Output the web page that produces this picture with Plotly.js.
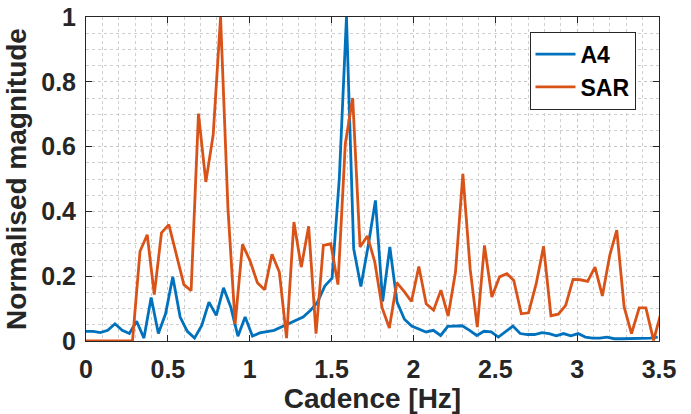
<!DOCTYPE html>
<html>
<head>
<meta charset="utf-8">
<script src="https://cdn.plot.ly/plotly-3.0.1.min.js"></script>
<style>html,body{margin:0;padding:0;background:#fff;}#chart{width:691px;height:414px;}</style>
</head>
<body>
<div id="chart"></div>
<script>
// A4 series (frequency in Hz, normalised magnitude)
const a4Freq = [0.000,0.044,0.088,0.133,0.177,0.221,0.265,0.309,0.354,0.398,0.442,0.486,0.530,0.575,0.619,0.663,0.707,0.751,0.796,0.840,0.884,0.928,0.972,1.017,1.061,1.105,1.149,1.193,1.238,1.282,1.326,1.370,1.414,1.459,1.503,1.547,1.591,1.635,1.679,1.724,1.768,1.812,1.856,1.900,1.945,1.989,2.033,2.077,2.122,2.166,2.210,2.254,2.298,2.343,2.387,2.431,2.475,2.519,2.564,2.608,2.652,2.696,2.740,2.785,2.829,2.873,2.917,2.961,3.006,3.050,3.094,3.138,3.182,3.227,3.271,3.315,3.359,3.403,3.447,3.492];
const a4Mag = [0.030,0.030,0.026,0.033,0.053,0.033,0.023,0.061,0.009,0.134,0.023,0.084,0.198,0.074,0.030,0.009,0.048,0.120,0.079,0.164,0.105,0.015,0.074,0.015,0.025,0.028,0.033,0.043,0.053,0.064,0.074,0.094,0.120,0.170,0.194,0.500,1.000,0.285,0.168,0.295,0.434,0.122,0.290,0.120,0.067,0.046,0.038,0.028,0.033,0.017,0.045,0.046,0.047,0.033,0.017,0.030,0.028,0.012,0.030,0.046,0.023,0.020,0.020,0.026,0.023,0.016,0.023,0.016,0.023,0.012,0.009,0.009,0.012,0.007,0.007,0.007,0.007,0.007,0.009,0.012];

// SAR series
const sarFreq = [0.000,0.017,0.061,0.106,0.150,0.195,0.240,0.284,0.330,0.374,0.417,0.461,0.506,0.553,0.598,0.642,0.687,0.732,0.777,0.822,0.867,0.911,0.956,1.001,1.047,1.091,1.136,1.181,1.225,1.270,1.315,1.360,1.405,1.450,1.495,1.539,1.584,1.629,1.674,1.719,1.764,1.809,1.853,1.898,1.943,1.988,2.033,2.078,2.123,2.168,2.212,2.257,2.302,2.347,2.390,2.434,2.479,2.526,2.571,2.613,2.659,2.703,2.750,2.795,2.840,2.885,2.930,2.975,3.020,3.064,3.109,3.154,3.199,3.242,3.287,3.332,3.379,3.420,3.467,3.511];
const sarMag = [0,0,0,0,0,0,0,0,0.277,0.328,0.143,0.334,0.359,0.262,0.174,0.155,0.702,0.491,0.637,1.000,0.410,0.053,0.298,0.249,0.180,0.158,0.268,0.213,0.009,0.367,0.228,0.354,0.023,0.295,0.300,0.174,0.609,0.750,0.290,0.324,0.244,0.102,0.040,0.180,0.153,0.122,0.230,0.115,0.095,0.157,0.077,0.213,0.516,0.220,0.043,0.295,0.136,0.198,0.208,0.187,0.084,0.087,0.177,0.292,0.078,0.083,0.110,0.190,0.189,0.184,0.228,0.139,0.264,0.342,0.105,0.023,0.102,0.102,0.002,0.085];

const seriesNames = ["A4", "SAR"];
const xTickVals = [0, 0.5, 1, 1.5, 2, 2.5, 3, 3.5];
const xTickText = ["0", "0.5", "1", "1.5", "2", "2.5", "3", "3.5"];
const yTickVals = [0, 0.2, 0.4, 0.6, 0.8, 1];
const yTickText = ["0", "0.2", "0.4", "0.6", "0.8", "1"];
const xLabel = "Cadence [Hz]";
const yLabel = "Normalised magnitude";

const FONT = "Liberation Sans, Arial, Helvetica, sans-serif";
const AX = "#262626";

const traces = [
  {x: a4Freq, y: a4Mag, name: seriesNames[0], type: "scatter", mode: "lines",
   line: {color: "#0072BD", width: 2.8}},
  {x: sarFreq, y: sarMag, name: seriesNames[1], type: "scatter", mode: "lines",
   line: {color: "#D95319", width: 2.8}}
];

const axisCommon = {
  showline: true, linecolor: AX, linewidth: 1, mirror: "ticks",
  ticks: "inside", ticklen: 6, tickwidth: 1, tickcolor: AX,
  showgrid: true, gridcolor: "#c4c4c4", griddash: "dot", gridwidth: 1,
  zeroline: false,
  tickfont: {family: FONT, size: 25, color: AX, weight: "bold"}
};

const layout = {
  width: 691, height: 414,
  margin: {l: 86, r: 32, t: 17, b: 73, pad: 0},
  paper_bgcolor: "#ffffff", plot_bgcolor: "#ffffff",
  showlegend: true,
  xaxis: Object.assign({}, axisCommon, {
    range: [0, 3.5], tickmode: "array", tickvals: xTickVals, ticktext: xTickText,
    ticklabelstandoff: 6,
    minor: {dtick: 0.1, tick0: 0, showgrid: true, gridcolor: "#cfcfcf", griddash: "dot", gridwidth: 1},
    title: {text: xLabel, font: {family: FONT, size: 28, color: AX, weight: "bold"}, standoff: 8}
  }),
  yaxis: Object.assign({}, axisCommon, {
    range: [0, 1], tickmode: "array", tickvals: yTickVals, ticktext: yTickText,
    ticklabelstandoff: 4,
    minor: {dtick: 0.05, tick0: 0, showgrid: true, gridcolor: "#cfcfcf", griddash: "dot", gridwidth: 1},
    title: {text: yLabel, font: {family: FONT, size: 28, color: AX, weight: "bold"}, standoff: 6}
  }),
  legend: {
    x: 0.774, y: 0.955, xanchor: "left", yanchor: "top",
    bgcolor: "#ffffff", bordercolor: AX, borderwidth: 1,
    font: {family: FONT, size: 23, color: "#000000", weight: "bold"},
    itemwidth: 40, tracegroupgap: 0
  }
};

Plotly.newPlot("chart", traces, layout, {staticPlot: true, displayModeBar: false});
</script>
</body>
</html>
